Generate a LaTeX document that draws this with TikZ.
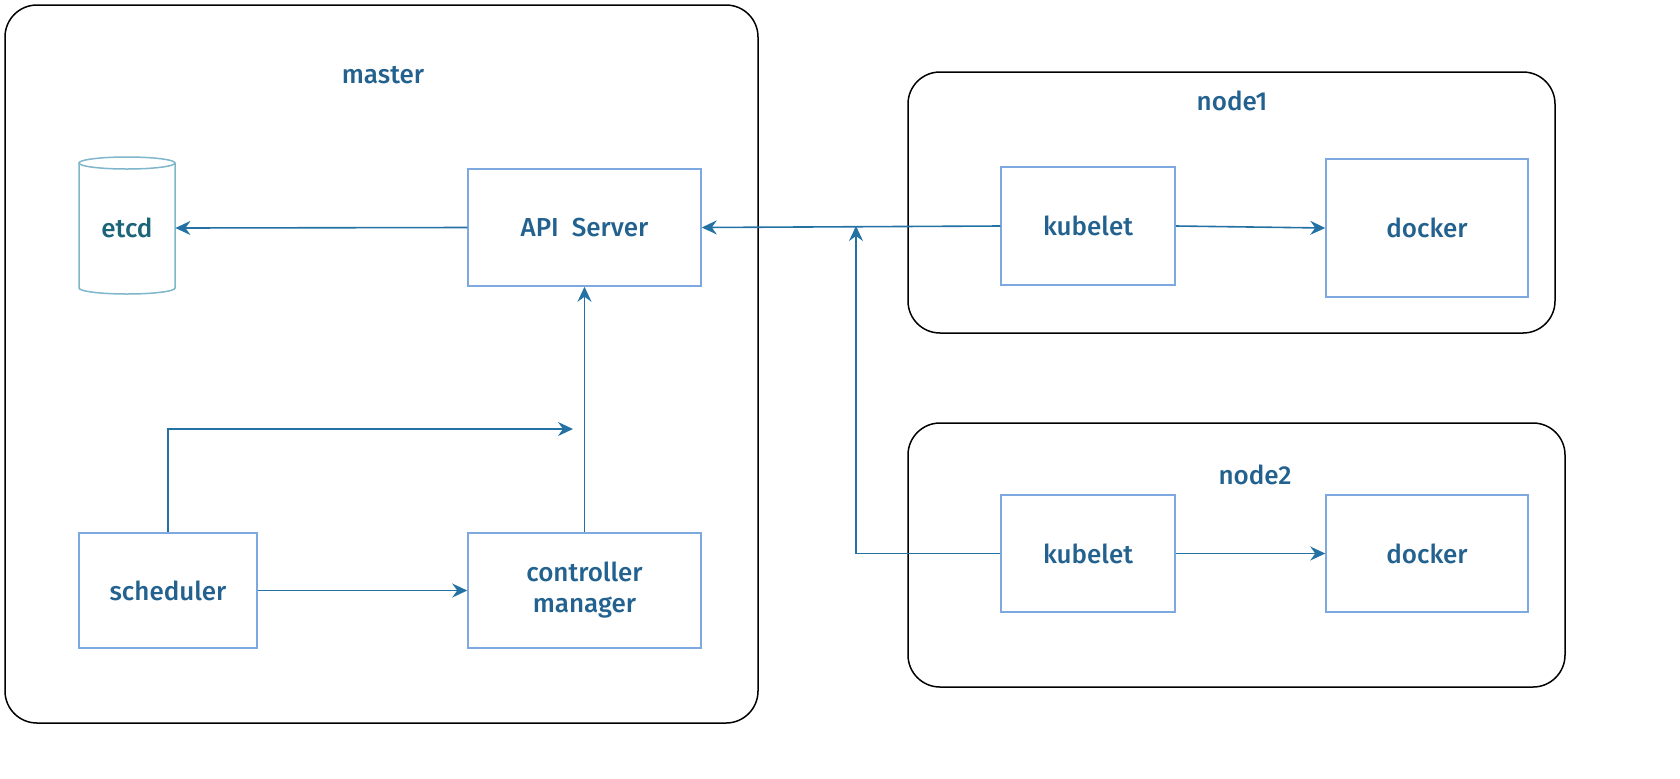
\documentclass[tikz,border=0pt]{standalone}
\usepackage{fontspec}
\setmainfont{Fira Sans Medium}
\usetikzlibrary{arrows.meta,positioning}
\definecolor{txt}{HTML}{23628F}
\definecolor{edge}{HTML}{7EA9E0}
\definecolor{wire}{HTML}{2471A3}
\definecolor{dbtxt}{HTML}{1C6478}
\definecolor{dbedge}{HTML}{7FB6CC}
\tikzset{
	group/.style = {draw = black, line width = 0.75pt, rounded corners = 16pt},
	comp/.style = {draw = edge, line width = 0.75pt, text = txt, align = center},
	title/.style = {text = txt},
	link/.style = {-{Stealth[length=7.5pt,width=7pt,inset=2.5pt]}, wire, line width = 0.8pt}
}

\begin{document}
\begin{tikzpicture}[x=0.5pt,y=-0.5pt,font=\fontsize{13}{15.5}\selectfont]
	\useasboundingbox (0,0) rectangle (1680,778);
	% groups
	\node [group, minimum width = 376.5pt, minimum height = 359pt] (master) at (381.5,364) {};
	\node [group, minimum width = 323.5pt, minimum height = 130.5pt] (node1) at (1231.5,202.5) {};
	\node [group, minimum width = 328.5pt, minimum height = 132pt] (node2) at (1236.5,555) {};
	\node [title] (mastertitle) at (383,75) {master};
	\node [title] (node1title) at (1232,101) {node1};
	\node [title] (node2title) at (1255,475) {node2};
	% etcd cylinder
	\draw [dbedge, line width = 0.75pt] (79,163) -- (79,288) arc [start angle = 180, end angle = 0, x radius = 48, y radius = 6] -- (175,163);
	\draw [dbedge, line width = 0.75pt] (127,163) ellipse [x radius = 48, y radius = 6];
	\node [text = dbtxt, minimum width = 48pt, minimum height = 68.5pt] (etcd) at (127,228) {etcd};
	% master components
	\node [comp, minimum width = 116.5pt, minimum height = 58.5pt] (api) at (584.5,227.5) {API~~Server};
	\node [comp, minimum width = 89pt, minimum height = 57.5pt] (sched) at (168,590.5) {scheduler};
	\node [comp, minimum width = 116.5pt, minimum height = 57.5pt] (ctrl) at (584.5,590.5) {controller\\manager};
	% worker components
	\node [comp, minimum width = 87pt, minimum height = 59pt] (kubelet1) at (1088,226) {kubelet};
	\node [comp, minimum width = 101pt, minimum height = 69pt] (docker1) at (1427,228) {docker};
	\node [comp, minimum width = 87pt, minimum height = 58.5pt] (kubelet2) at (1088,553.5) {kubelet};
	\node [comp, minimum width = 101pt, minimum height = 58.5pt] (docker2) at (1427,553.5) {docker};
	\coordinate (join) at (856,226);
	\coordinate (schedtip) at (573,429);
	% links
	\draw [link] (api.west) -- (etcd.east);
	\draw [link] (kubelet1.west) -- (api.east);
	\draw [link] (kubelet1.east) -- (docker1.west);
	\draw [link] (kubelet2.east) -- (docker2.west);
	\draw [link] (kubelet2.west) -| (join);
	\draw [link] (ctrl.north) -- (api.south);
	\draw [link] (sched.north) |- (schedtip);
	\draw [link] (sched.east) -- (sched.east -| ctrl.west);
\end{tikzpicture}
\end{document}
